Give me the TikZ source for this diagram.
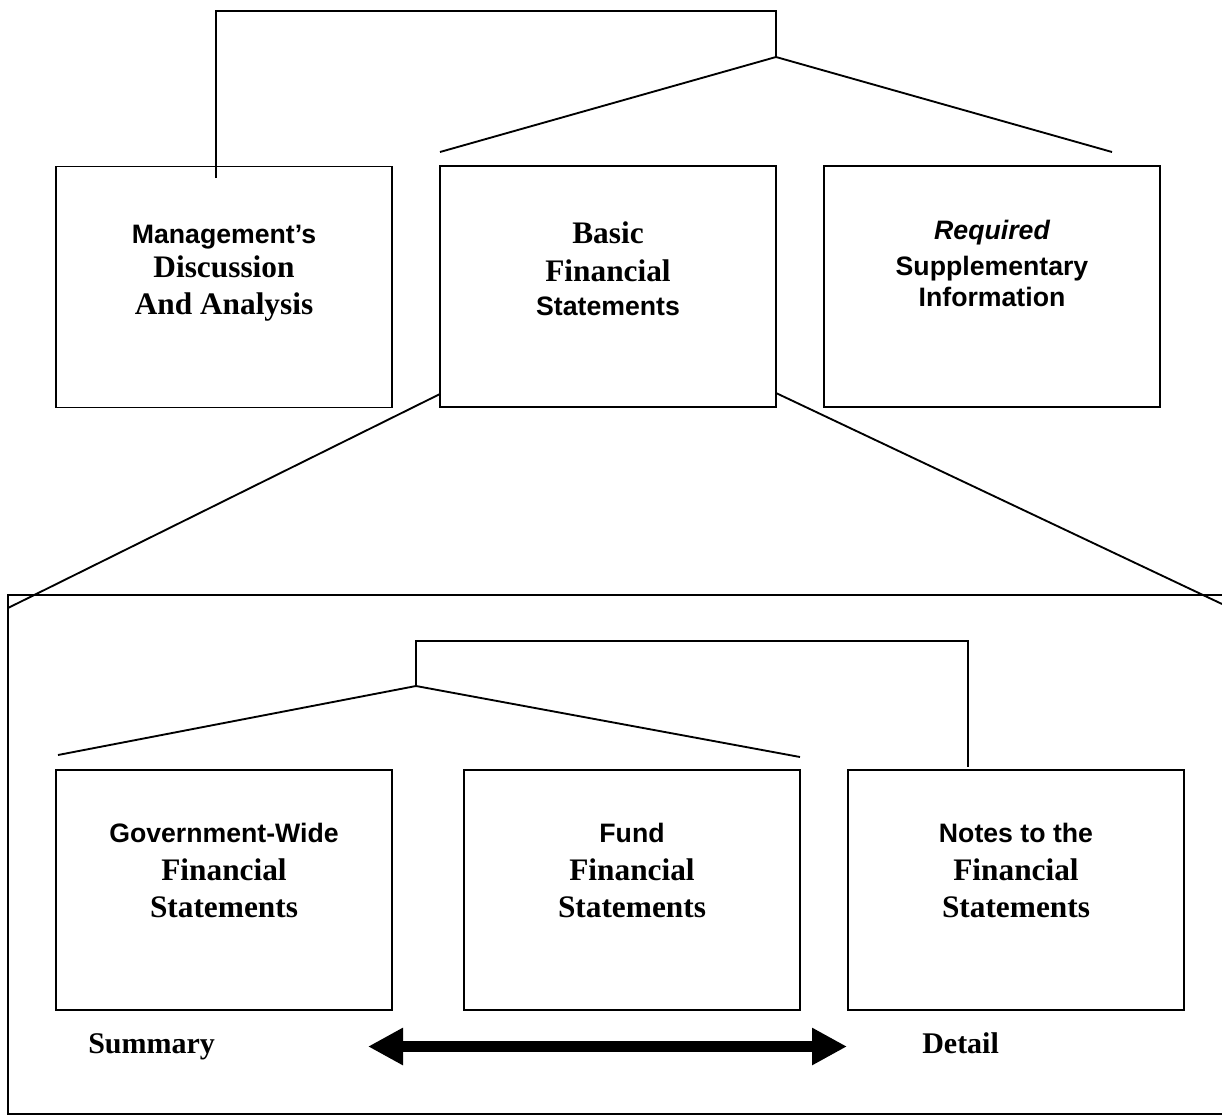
\documentclass[tikz,border=0pt]{standalone}
\usepackage{fontspec}
\setmainfont{Liberation Serif}
\newfontfamily\arialfont{Liberation Sans}
\usetikzlibrary{arrows.meta}
\begin{document}
\begin{tikzpicture}[x=0.75pt,y=-0.75pt,
  box/.style={draw,line width=1.4pt,rectangle,inner sep=0pt,outer sep=0pt,minimum width=252pt,minimum height=180.75pt},
  sans/.style={anchor=base,inner sep=0pt,font=\arialfont\bfseries\fontsize{20}{24}\selectfont},
  sansit/.style={anchor=base,inner sep=0pt,font=\arialfont\bfseries\itshape\fontsize{20}{24}\selectfont},
  serif/.style={anchor=base,inner sep=0pt,font=\bfseries\fontsize{23.5}{28}\selectfont},
  lbl/.style={anchor=base west,inner sep=0pt,font=\bfseries\fontsize{22.5}{27}\selectfont},
  conn/.style={line width=1.4pt}]
\useasboundingbox (0,0) rectangle (1222,1117);

% top level boxes
\node[box] (mda) at (224,287) {};
\node[box] (bfs) at (608,286.5) {};
\node[box] (rsi) at (992,286.5) {};

\node[sans]  (mda1) at (224,243) {Management’s};
\node[serif] (mda2) at (224,277) {Discussion};
\node[serif] (mda3) at (224,314) {And Analysis};

\node[serif] (bfs1) at (608,243) {Basic};
\node[serif] (bfs2) at (608,281) {Financial};
\node[sans]  (bfs3) at (608,315) {Statements};

\node[sansit] (rsi1) at (992,239) {Required};
\node[sans]   (rsi2) at (992,275) {Supplementary};
\node[sans]   (rsi3) at (992,306) {Information};

% top connectors
\coordinate (topL) at (216,11);
\coordinate (topR) at (776,11);
\coordinate (apex) at (776,57);
\coordinate (mdaIn) at (216,178);
\coordinate (bfsTL) at (440,152);
\coordinate (rsiTR) at (1112,152);
\draw[conn] (mdaIn) -- (topL) -- (topR) -- (apex);
\draw[conn] (bfsTL) -- (apex) -- (rsiTR);

% big enclosing box
\coordinate (bbTR) at (1222,595);
\coordinate (bbTL) at (8,595);
\coordinate (bbBL) at (8,1114);
\coordinate (bbBR) at (1222,1114);
\draw[conn] (bbTR) -- (bbTL) -- (bbBL) -- (bbBR);

% zoom lines from BFS
\coordinate (bfsBL) at (440,394);
\coordinate (bfsBR) at (776,393);
\coordinate (zL) at (8,608);
\coordinate (zR) at (1222,604);
\draw[conn] (bfsBL) -- (zL);
\draw[conn] (bfsBR) -- (zR);

% bottom boxes
\node[box,minimum height=180pt] (gw) at (224,890) {};
\node[box,minimum height=180pt] (fund) at (632,890) {};
\node[box,minimum height=180pt] (notes) at (1016,890) {};

\node[sans]  (gw1) at (224,842) {Government-Wide};
\node[serif] (gw2) at (224,880) {Financial};
\node[serif] (gw3) at (224,917) {Statements};

\node[sans]  (fund1) at (632,842) {Fund};
\node[serif] (fund2) at (632,880) {Financial};
\node[serif] (fund3) at (632,917) {Statements};

\node[sans]  (notes1) at (1016,842) {Notes to the};
\node[serif] (notes2) at (1016,880) {Financial};
\node[serif] (notes3) at (1016,917) {Statements};

% inner connectors
\coordinate (iapex) at (416,686);
\coordinate (itop) at (416,641);
\coordinate (itopR) at (968,641);
\coordinate (notesIn) at (968,767);
\coordinate (gwTL) at (58,755);
\coordinate (fundTR) at (800,757);
\draw[conn] (iapex) -- (itop) -- (itopR) -- (notesIn);
\draw[conn] (gwTL) -- (iapex) -- (fundTR);

% summary / detail
\node[lbl] (sum) at (88,1053) {Summary};
\node[lbl] (det) at (922,1053) {Detail};
\coordinate (arL) at (368,1046.5);
\coordinate (arR) at (847,1046.5);
\draw[line width=8.6pt,{Triangle[length=26.25pt,width=26.25pt]}-{Triangle[length=26.25pt,width=26.25pt]}] (arL) -- (arR);
\end{tikzpicture}
\end{document}
